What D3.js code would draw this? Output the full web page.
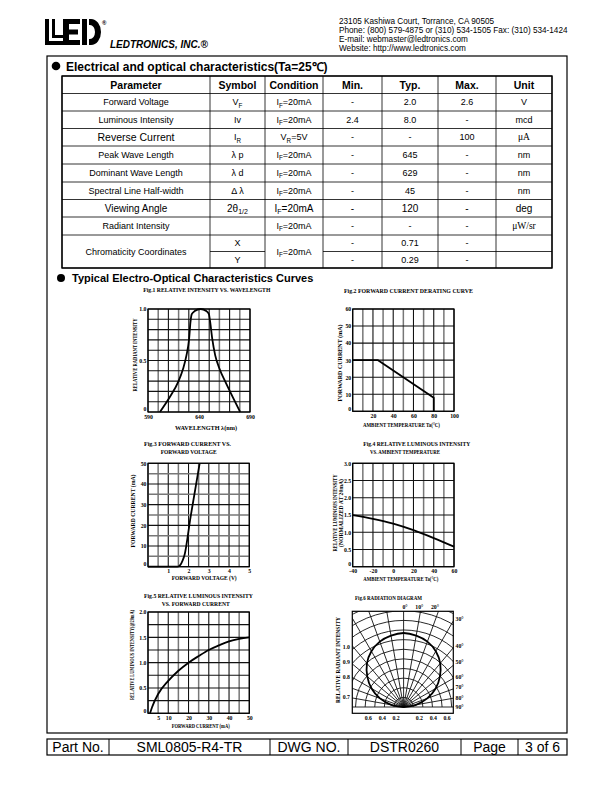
<!DOCTYPE html>
<html>
<head>
<meta charset="utf-8">
<script src="https://cdn.jsdelivr.net/npm/d3@7"></script>
<style>
    body { margin: 0; background: #fff; }
    svg { display: block; }
    .sans { font-family: 'Liberation Sans', Arial, sans-serif; }
    .tiny { font-family: 'Liberation Serif', 'DejaVu Serif', serif; font-weight: bold; font-size: 5.8px; }
</style>
</head>
<body>
<svg id="page" width="612" height="792"></svg>
<script>
// LEDtronics SML0805-R4-TR datasheet, page 3: characteristics table + six curves.

// ---- header / footer text
var addressLines = [
    '23105 Kashiwa Court, Torrance, CA 90505',
    'Phone:  (800) 579-4875 or (310) 534-1505  Fax: (310) 534-1424',
    'E-mail:  webmaster@ledtronics.com',
    'Website:  http://www.ledtronics.com'
];
var footerCells = ['Part No.', 'SML0805-R4-TR', 'DWG NO.', 'DSTR0260', 'Page', '3 of 6'];

// ---- characteristics table
var tableHeader = ['Parameter', 'Symbol', 'Condition', 'Min.', 'Typ.', 'Max.', 'Unit'];
var parameters = ['Forward Voltage', 'Luminous Intensity', 'Reverse Current', 'Peak Wave Length',
    'Dominant Wave Length', 'Spectral Line Half-width', 'Viewing Angle', 'Radiant Intensity',
    'Chromaticity Coordinates'];
var symbols = [['V', 'F'], ['Iv', ''], ['I', 'R'], ['\u03bb p', ''], ['\u03bb d', ''], ['\u0394 \u03bb', ''],
    ['2\u03b8', '1/2'], ['', ''], ['X', ''], ['Y', '']];
var conditions = [['I', 'F', '=20mA'], ['I', 'F', '=20mA'], ['V', 'R', '=5V'], ['I', 'F', '=20mA'],
    ['I', 'F', '=20mA'], ['I', 'F', '=20mA'], ['I', 'F', '=20mA'], ['I', 'F', '=20mA'], ['I', 'F', '=20mA']];
var minVals = ['-', '2.4', '-', '-', '-', '-', '-', '-', '-', '-'];
var typVals = ['2.0', '8.0', '-', '645', '629', '45', '120', '-', '0.71', '0.29'];
var maxVals = ['2.6', '-', '100', '-', '-', '-', '-', '-', '-', '-'];
var units = ['V', 'mcd', '\u03bcA', 'nm', 'nm', 'nm', 'deg', '\u03bcW/sr', '', ''];

// ---- Fig.1 relative intensity vs wavelength
var fig1Wavelength = [601.7, 611.4, 619.5, 624.4, 627.7, 630.3, 631.6, 632.9, 635.8, 641.6,
    647.1, 649.7, 651, 653, 655.9, 660.1, 666, 673.1, 680.3];
var fig1Intensity = [0, 0.145, 0.29, 0.42, 0.55, 0.71, 0.87, 0.95, 0.98, 1.0,
    0.98, 0.95, 0.87, 0.71, 0.55, 0.42, 0.29, 0.145, 0];
var fig1XTicks = [590, 640, 690];
var fig1YTicks = [0, 0.5, 1.0];

// ---- Fig.2 forward current derating
var fig2Temp = [0, 25, 80, 80];
var fig2Current = [30, 30, 8, 0];
var fig2XTicks = [20, 40, 60, 80, 100];
var fig2YTicks = [0, 10, 20, 30, 40, 50, 60];

// ---- Fig.3 forward current vs forward voltage
var fig3Voltage = [0, 1.45, 1.55, 1.62, 1.7, 1.8, 2.1, 2.55];
var fig3Current = [0, 0, 0.4, 1.2, 2.8, 5.5, 24, 50];
var fig3XTicks = [1, 2, 3, 4, 5];
var fig3YTicks = [0, 10, 20, 30, 40, 50];

// ---- Fig.4 relative luminous intensity vs ambient temperature
var fig4Temp = [-40, -20, 0, 20, 40, 60];
var fig4Rel = [1.5, 1.39, 1.25, 1.06, 0.83, 0.58];
var fig4XTicks = [-40, -20, 0, 20, 40, 60];
var fig4YTicks = [0, 0.5, 1.0, 1.5, 2.0, 2.5, 3.0];

// ---- Fig.5 relative luminous intensity vs forward current
var fig5Current = [1, 2, 5, 10, 15, 20, 25, 30, 35, 40, 45, 50];
var fig5Rel = [0, 0.12, 0.38, 0.64, 0.84, 1.0, 1.13, 1.25, 1.34, 1.42, 1.47, 1.5];
var fig5XTicks = [5, 10, 20, 30, 40, 50];
var fig5YTicks = [0, 0.5, 1.0, 1.5, 2.0];

// ---- Fig.6 radiation diagram
var fig6Angle = [-90, -80, -70, -60, -50, -40, -30, -20, -10, 0, 10, 20, 30, 40, 50, 60, 70, 80, 90];
var fig6Rel = [0, 0.17, 0.34, 0.5, 0.64, 0.77, 0.87, 0.94, 0.98, 1.0, 0.98, 0.94, 0.87, 0.77, 0.64, 0.5, 0.34, 0.17, 0];
var fig6Rings = [0.13, 0.26, 0.39, 0.52, 0.65, 0.78, 0.91, 1.04, 1.17, 1.3, 1.43];
var fig6Spokes = [-90, -80, -70, -60, -50, -40, -30, -20, -10, 0, 10, 20, 30, 40, 50, 60, 70, 80, 90];
var fig6IntensityLabels = ['1.0', '0.9', '0.8', '0.7'];
var fig6BottomLabels = ['0.6', '0.4', '0.2', '0.2', '0.4', '0.6'];
var fig6AngleLabels = ['0\u00b0', '10\u00b0', '20\u00b0', '30\u00b0', '40\u00b0', '50\u00b0', '60\u00b0', '70\u00b0', '80\u00b0', '90\u00b0'];

var svg = d3.select('#page');
svg.append('rect').attr('width', 612).attr('height', 792).attr('fill', '#fff');

function fmt1(d) { return d === 0 ? '0' : d3.format('.1f')(d); }

// text with an optional subscript part: [main, sub, rest]
function subText(t, parts, size) {
    t.append('tspan').text(parts[0]);
    if (parts[1]) t.append('tspan').attr('font-size', size * 0.7).attr('dy', size * 0.25).text(parts[1]);
    if (parts[2]) t.append('tspan').attr('dy', parts[1] ? -size * 0.25 : 0).text(parts[2]);
}

function tiny(x, y, str, len, anchor) {
    var t = svg.append('text').attr('class', 'tiny').attr('x', x).attr('y', y)
        .attr('text-anchor', anchor || 'start').text(str);
    if (len) t.attr('textLength', len).attr('lengthAdjust', 'spacingAndGlyphs');
    return t;
}
function tinyV(cx, cy, str, len) {
    return svg.append('text').attr('class', 'tiny')
        .attr('transform', 'translate(' + cx + ',' + cy + ') rotate(-90)')
        .attr('text-anchor', 'middle').attr('dy', '0.35em')
        .attr('textLength', len).attr('lengthAdjust', 'spacingAndGlyphs').text(str);
}

// ---------------- header
function drawHeader() {
    var lg = svg.append('g').attr('fill', '#000');
    // L (double stroke)
    lg.append('rect').attr('x', 45).attr('y', 19).attr('width', 4).attr('height', 26);
    lg.append('rect').attr('x', 45).attr('y', 41).attr('width', 18).attr('height', 4);
    lg.append('rect').attr('x', 52).attr('y', 19).attr('width', 3).attr('height', 19);
    lg.append('rect').attr('x', 52).attr('y', 35).attr('width', 11).attr('height', 3);
    // E
    lg.append('rect').attr('x', 63).attr('y', 19).attr('width', 6).attr('height', 26);
    lg.append('rect').attr('x', 63).attr('y', 19).attr('width', 17).attr('height', 5);
    lg.append('rect').attr('x', 63).attr('y', 29.5).attr('width', 15).attr('height', 5);
    lg.append('rect').attr('x', 63).attr('y', 40).attr('width', 17).attr('height', 5);
    // D
    lg.append('rect').attr('x', 82).attr('y', 19).attr('width', 5).attr('height', 26);
    lg.append('path').attr('d', 'M89,19 h2 a10,13 0 0 1 0,26 h-2 v-6 h1 a5,7 0 0 0 0,-14 h-1 z');
    lg.append('text').attr('class', 'sans').attr('x', 102).attr('y', 25).attr('font-size', 6)
        .attr('font-weight', 'bold').text('\u00ae');

    svg.append('text').attr('class', 'sans').attr('x', 110).attr('y', 48)
        .attr('font-size', 10).attr('font-weight', 'bold').attr('font-style', 'italic')
        .text('LEDTRONICS, INC.\u00ae');

    svg.selectAll('text.addr').data(addressLines).join('text')
        .attr('class', 'addr sans').attr('x', 339)
        .attr('y', function (d, i) { return 24 + i * 9; })
        .attr('font-size', 8.2).text(function (d) { return d; });
}

// ---------------- table
function drawTable() {
    var colX = [62, 210, 265, 323, 382, 438, 496, 552];
    var rowY = [76, 93.5, 111, 128.5, 146, 164, 182, 199.5, 217, 235, 251.5, 268];
    var g = svg.append('g').attr('class', 'sans');
    var ln = function (x1, y1, x2, y2) {
        g.append('line').attr('x1', x1).attr('y1', y1).attr('x2', x2).attr('y2', y2)
            .attr('stroke', '#000').attr('stroke-width', 0.8);
    };
    var cell = function (c, r0, r1, size) {
        return g.append('text').attr('x', (colX[c] + colX[c + 1]) / 2)
            .attr('y', (rowY[r0] + rowY[r1]) / 2 + size * 0.36)
            .attr('text-anchor', 'middle').attr('font-size', size);
    };

    rowY.forEach(function (y, i) {
        if (i === 10) {
            // inner line of the chromaticity block skips the spanned cells
            ln(colX[1], y, colX[2], y);
            ln(colX[3], y, colX[7], y);
            return;
        }
        ln(colX[0], y, colX[7], y);
    });
    colX.forEach(function (x) { ln(x, rowY[0], x, rowY[11]); });
    g.append('rect').attr('x', colX[0]).attr('y', rowY[0])
        .attr('width', colX[7] - colX[0]).attr('height', rowY[11] - rowY[0])
        .attr('fill', 'none').attr('stroke', '#000').attr('stroke-width', 1.4);

    tableHeader.forEach(function (h, c) {
        cell(c, 0, 1, 10.5).attr('font-weight', 'bold').text(h);
    });

    // Reverse Current name and the whole Viewing Angle row are set a little larger
    for (var r = 0; r < 10; r++) {
        var row = r + 1, s = r === 6 ? 10 : 9;
        if (r < 8) {
            cell(0, row, row + 1, r === 2 ? 10.5 : s).text(parameters[r]);
            subText(cell(2, row, row + 1, s), conditions[r], s);
        } else if (r === 8) {
            cell(0, 9, 11, 9).text(parameters[8]);
            subText(cell(2, 9, 11, 9), conditions[8], 9);
        }
        subText(cell(1, row, row + 1, s), symbols[r], s);
        cell(3, row, row + 1, s).text(minVals[r]);
        cell(4, row, row + 1, s).text(typVals[r]);
        cell(5, row, row + 1, s).text(maxVals[r]);
        var u = cell(6, row, row + 1, s).text(units[r]);
        if (units[r].indexOf('\u03bc') === 0) u.attr('font-family', "'Liberation Serif', serif").attr('font-size', s + 0.5);
    }
}

// ---------------- generic grid chart
function gridChart(o) {
    var g = svg.append('g');
    var x = d3.scaleLinear().domain(o.xDomain).range([o.left, o.left + o.w]);
    var y = d3.scaleLinear().domain(o.yDomain).range([o.top + o.h, o.top]);
    var xg = d3.range(o.xDomain[0], o.xDomain[1] + o.xStep / 2, o.xStep);
    var yg = d3.range(o.yDomain[0], o.yDomain[1] + o.yStep / 2, o.yStep);

    g.selectAll('line.vg').data(xg).join('line').attr('class', 'vg')
        .attr('x1', function (d) { return x(d); }).attr('x2', function (d) { return x(d); })
        .attr('y1', o.top).attr('y2', o.top + o.h)
        .attr('stroke', function (d, i) { return i % 2 ? '#777' : '#111'; })
        .attr('stroke-width', function (d, i) { return i % 2 ? 1.5 : 1.1; });
    g.selectAll('line.hg').data(yg).join('line').attr('class', 'hg')
        .attr('y1', function (d) { return y(d); }).attr('y2', function (d) { return y(d); })
        .attr('x1', o.left).attr('x2', o.left + o.w)
        .attr('stroke', function (d, i) { return (o.hAlt && i % 2) ? '#777' : '#111'; })
        .attr('stroke-width', function (d, i) { return (o.hAlt && i % 2) ? 1.5 : 1.1; });
    g.append('rect').attr('x', o.left).attr('y', o.top).attr('width', o.w).attr('height', o.h)
        .attr('fill', 'none').attr('stroke', '#000').attr('stroke-width', 1.2);

    var pts = o.xs.map(function (v, i) { return [v, o.ys[i]]; });
    g.append('path').datum(pts)
        .attr('fill', 'none').attr('stroke', '#000').attr('stroke-width', 1.8)
        .attr('stroke-linejoin', 'round')
        .attr('d', d3.line().x(function (d) { return x(d[0]); }).y(function (d) { return y(d[1]); })
            .curve(o.curve || d3.curveLinear));

    var ax = g.append('g').attr('transform', 'translate(0,' + (o.top + o.h) + ')')
        .call(d3.axisBottom(x).tickValues(o.xTicks).tickSize(0).tickPadding(2.5)
            .tickFormat(o.xFormat || function (d) { return d; }));
    ax.select('.domain').remove();
    ax.attr('font-size', null).attr('font-family', null);
    ax.selectAll('text').attr('class', 'tiny');

    var ay = g.append('g').attr('transform', 'translate(' + o.left + ',0)')
        .call(d3.axisLeft(y).tickValues(o.yTicks).tickSize(0).tickPadding(1.5)
            .tickFormat(o.yFormat || function (d) { return d; }));
    ay.select('.domain').remove();
    ay.attr('font-size', null).attr('font-family', null);
    ay.selectAll('text').attr('class', 'tiny');
    // the zero label sits a little above the corner, clear of the first x label
    ay.selectAll('.tick text').filter(function (d) { return d === 0; }).attr('dy', '-0.2em');
}

function drawFig1() {
    tiny(143.3, 291.5, 'Fig.1  RELATIVE  INTENSITY  VS.  WAVELENGTH', 127);
    gridChart({ left: 148, top: 309, w: 102, h: 103, xDomain: [590, 690], yDomain: [0, 1],
        xStep: 10, yStep: 0.1, xs: fig1Wavelength, ys: fig1Intensity, curve: d3.curveMonotoneX,
        xTicks: fig1XTicks, yTicks: fig1YTicks, yFormat: fmt1 });
    tiny(175, 430, 'WAVELENGTH  \u03bb(nm)', 62);
    tinyV(135, 355, 'RELATIVE  RADIANT  INTENSITY', 73);
}

function drawFig2() {
    tiny(344, 292.5, 'Fig.2  FORWARD  CURRENT  DERATING  CURVE', 129);
    gridChart({ left: 352.7, top: 309, w: 101.3, h: 102.3, xDomain: [0, 100], yDomain: [0, 60],
        xStep: 10, yStep: 10, xs: fig2Temp, ys: fig2Current,
        xTicks: fig2XTicks, yTicks: fig2YTicks });
    tiny(363, 427, 'AMBIENT  TEMPERATURE  Ta(\u00b0C)', 77);
    tinyV(340, 363, 'FORWARD  CURRENT  (mA)', 77);
}

function drawFig3() {
    tiny(144, 445.5, 'Fig.3  FORWARD  CURRENT  VS.', 87);
    tiny(160.7, 453.5, 'FORWARD  VOLTAGE', 56);
    gridChart({ left: 148, top: 463.3, w: 101.3, h: 103.4, xDomain: [0, 5], yDomain: [0, 50],
        xStep: 0.5, yStep: 5, hAlt: true, xs: fig3Voltage, ys: fig3Current, curve: d3.curveMonotoneX,
        xTicks: fig3XTicks, yTicks: fig3YTicks });
    tiny(171.7, 580, 'FORWARD  VOLTAGE  (V)', 65);
    tinyV(133.3, 511, 'FORWARD  CURRENT  (mA)', 73);
}

function drawFig4() {
    tiny(363.3, 446, 'Fig.4  RELATIVE  LUMINOUS  INTENSITY', 107);
    tiny(370, 453.5, 'VS.  AMBIENT  TEMPERATURE', 70);
    gridChart({ left: 352.7, top: 463.3, w: 101.3, h: 103.4, xDomain: [-40, 60], yDomain: [0, 3],
        xStep: 10, yStep: 0.5, xs: fig4Temp, ys: fig4Rel, curve: d3.curveMonotoneX,
        xTicks: fig4XTicks, yTicks: fig4YTicks, yFormat: fmt1 });
    tiny(363.3, 580.5, 'AMBIENT  TEMPERATURE  Ta(\u00b0C)', 75);
    tinyV(334.5, 513, 'RELATIVE  LUMINOUS  INTENSITY', 77);
    tinyV(340.5, 513, '(NORMALIZED  AT  20mA)', 68);
}

function drawFig5() {
    tiny(144, 597.5, 'Fig.5  RELATIVE  LUMINOUS  INTENSITY', 109);
    tiny(161.7, 606, 'VS.  FORWARD  CURRENT', 68);
    gridChart({ left: 148, top: 612, w: 101.3, h: 101.3, xDomain: [0, 50], yDomain: [0, 2],
        xStep: 5, yStep: 0.25, xs: fig5Current, ys: fig5Rel, curve: d3.curveMonotoneX,
        xTicks: fig5XTicks, yTicks: fig5YTicks, yFormat: fmt1 });
    tiny(171.7, 728, 'FORWARD  CURRENT  (mA)', 58);
    tinyV(131.7, 655, 'RELATIVE  LUMINOUS  INTENSITY(@20mA)', 90);
}

function drawFig6() {
    tiny(355, 599.5, 'Fig.6  RADIATION  DIAGRAM', 67);
    var bx = 352.3, by = 611.3, bw = 101, bh = 102;
    var ox = 403.6, oy = 707;
    var r = d3.scaleLinear().domain([0, 1]).range([0, 74]);
    var g = svg.append('g');
    svg.append('clipPath').attr('id', 'clip6').append('rect')
        .attr('x', bx).attr('y', by).attr('width', bw).attr('height', bh);
    var gc = g.append('g').attr('clip-path', 'url(#clip6)');

    gc.selectAll('path.ring').data(fig6Rings).join('path').attr('class', 'ring')
        .attr('fill', 'none').attr('stroke', '#111').attr('stroke-width', 0.9)
        .attr('d', function (d) {
            var p = d3.path();
            p.moveTo(ox - r(d), oy);
            p.arc(ox, oy, r(d), Math.PI, 2 * Math.PI);
            return p.toString();
        });
    gc.selectAll('line.spoke').data(fig6Spokes).join('line').attr('class', 'spoke')
        .attr('x1', ox).attr('y1', oy)
        .attr('x2', function (d) { return ox + r(3) * Math.sin(d * Math.PI / 180); })
        .attr('y2', function (d) { return oy - r(3) * Math.cos(d * Math.PI / 180); })
        .attr('stroke', '#111').attr('stroke-width', 0.9);

    var pattern = fig6Angle.map(function (a, i) { return [a * Math.PI / 180, r(fig6Rel[i])]; });
    gc.append('path').datum(pattern)
        .attr('transform', 'translate(' + ox + ',' + oy + ')')
        .attr('fill', 'none').attr('stroke', '#000').attr('stroke-width', 1.8)
        .attr('d', d3.lineRadial().curve(d3.curveCardinal));

    g.append('rect').attr('x', bx).attr('y', by).attr('width', bw).attr('height', bh)
        .attr('fill', 'none').attr('stroke', '#000').attr('stroke-width', 1.2);

    var lblY = [648.5, 663.5, 679, 698.5];
    fig6IntensityLabels.forEach(function (t, i) { tiny(350, lblY[i], t, null, 'end'); });
    var botX = [368.3, 382.3, 396, 419.3, 433.3, 447];
    fig6BottomLabels.forEach(function (t, i) { tiny(botX[i], 720, t, null, 'middle'); });
    var angPos = [[405, 608.5], [419.3, 608.5], [435, 608.5], [455.5, 621], [455.5, 648],
        [455.5, 663.5], [455.5, 679], [455.5, 689], [455.5, 699.5], [455.5, 709]];
    fig6AngleLabels.forEach(function (t, i) {
        tiny(angPos[i][0], angPos[i][1], t, null, i < 3 ? 'middle' : 'start');
    });
    tinyV(338.3, 660, 'RELATIVE  RADIANT  INTENSITY', 86);
}

function drawFrame() {
    svg.append('rect').attr('x', 47).attr('y', 56).attr('width', 520).attr('height', 677)
        .attr('fill', 'none').attr('stroke', '#000').attr('stroke-width', 1.2);

    svg.append('circle').attr('cx', 56).attr('cy', 66).attr('r', 4.3).attr('fill', '#000');
    svg.append('text').attr('class', 'sans').attr('x', 66).attr('y', 70.5)
        .attr('font-size', 12).attr('font-weight', 'bold')
        .text('Electrical and optical characteristics(Ta=25\u2103)');

    svg.append('circle').attr('cx', 61).attr('cy', 278).attr('r', 4).attr('fill', '#000');
    svg.append('text').attr('class', 'sans').attr('x', 72).attr('y', 282)
        .attr('font-size', 11).attr('font-weight', 'bold')
        .text('Typical Electro-Optical Characteristics Curves');

    // footer strip
    var fx = [47, 109, 270, 348, 461, 518, 567];
    var fg = svg.append('g').attr('class', 'sans');
    fg.append('rect').attr('x', 47).attr('y', 739).attr('width', 520).attr('height', 16)
        .attr('fill', 'none').attr('stroke', '#000').attr('stroke-width', 1.2);
    fx.slice(1, 6).forEach(function (x) {
        fg.append('line').attr('x1', x).attr('x2', x).attr('y1', 739).attr('y2', 755)
            .attr('stroke', '#000').attr('stroke-width', 1);
    });
    footerCells.forEach(function (t, i) {
        fg.append('text').attr('x', (fx[i] + fx[i + 1]) / 2).attr('y', 752)
            .attr('text-anchor', 'middle').attr('font-size', 14).text(t);
    });
}

drawHeader();
drawFrame();
drawTable();
drawFig1();
drawFig2();
drawFig3();
drawFig4();
drawFig5();
drawFig6();
</script>
</body>
</html>
